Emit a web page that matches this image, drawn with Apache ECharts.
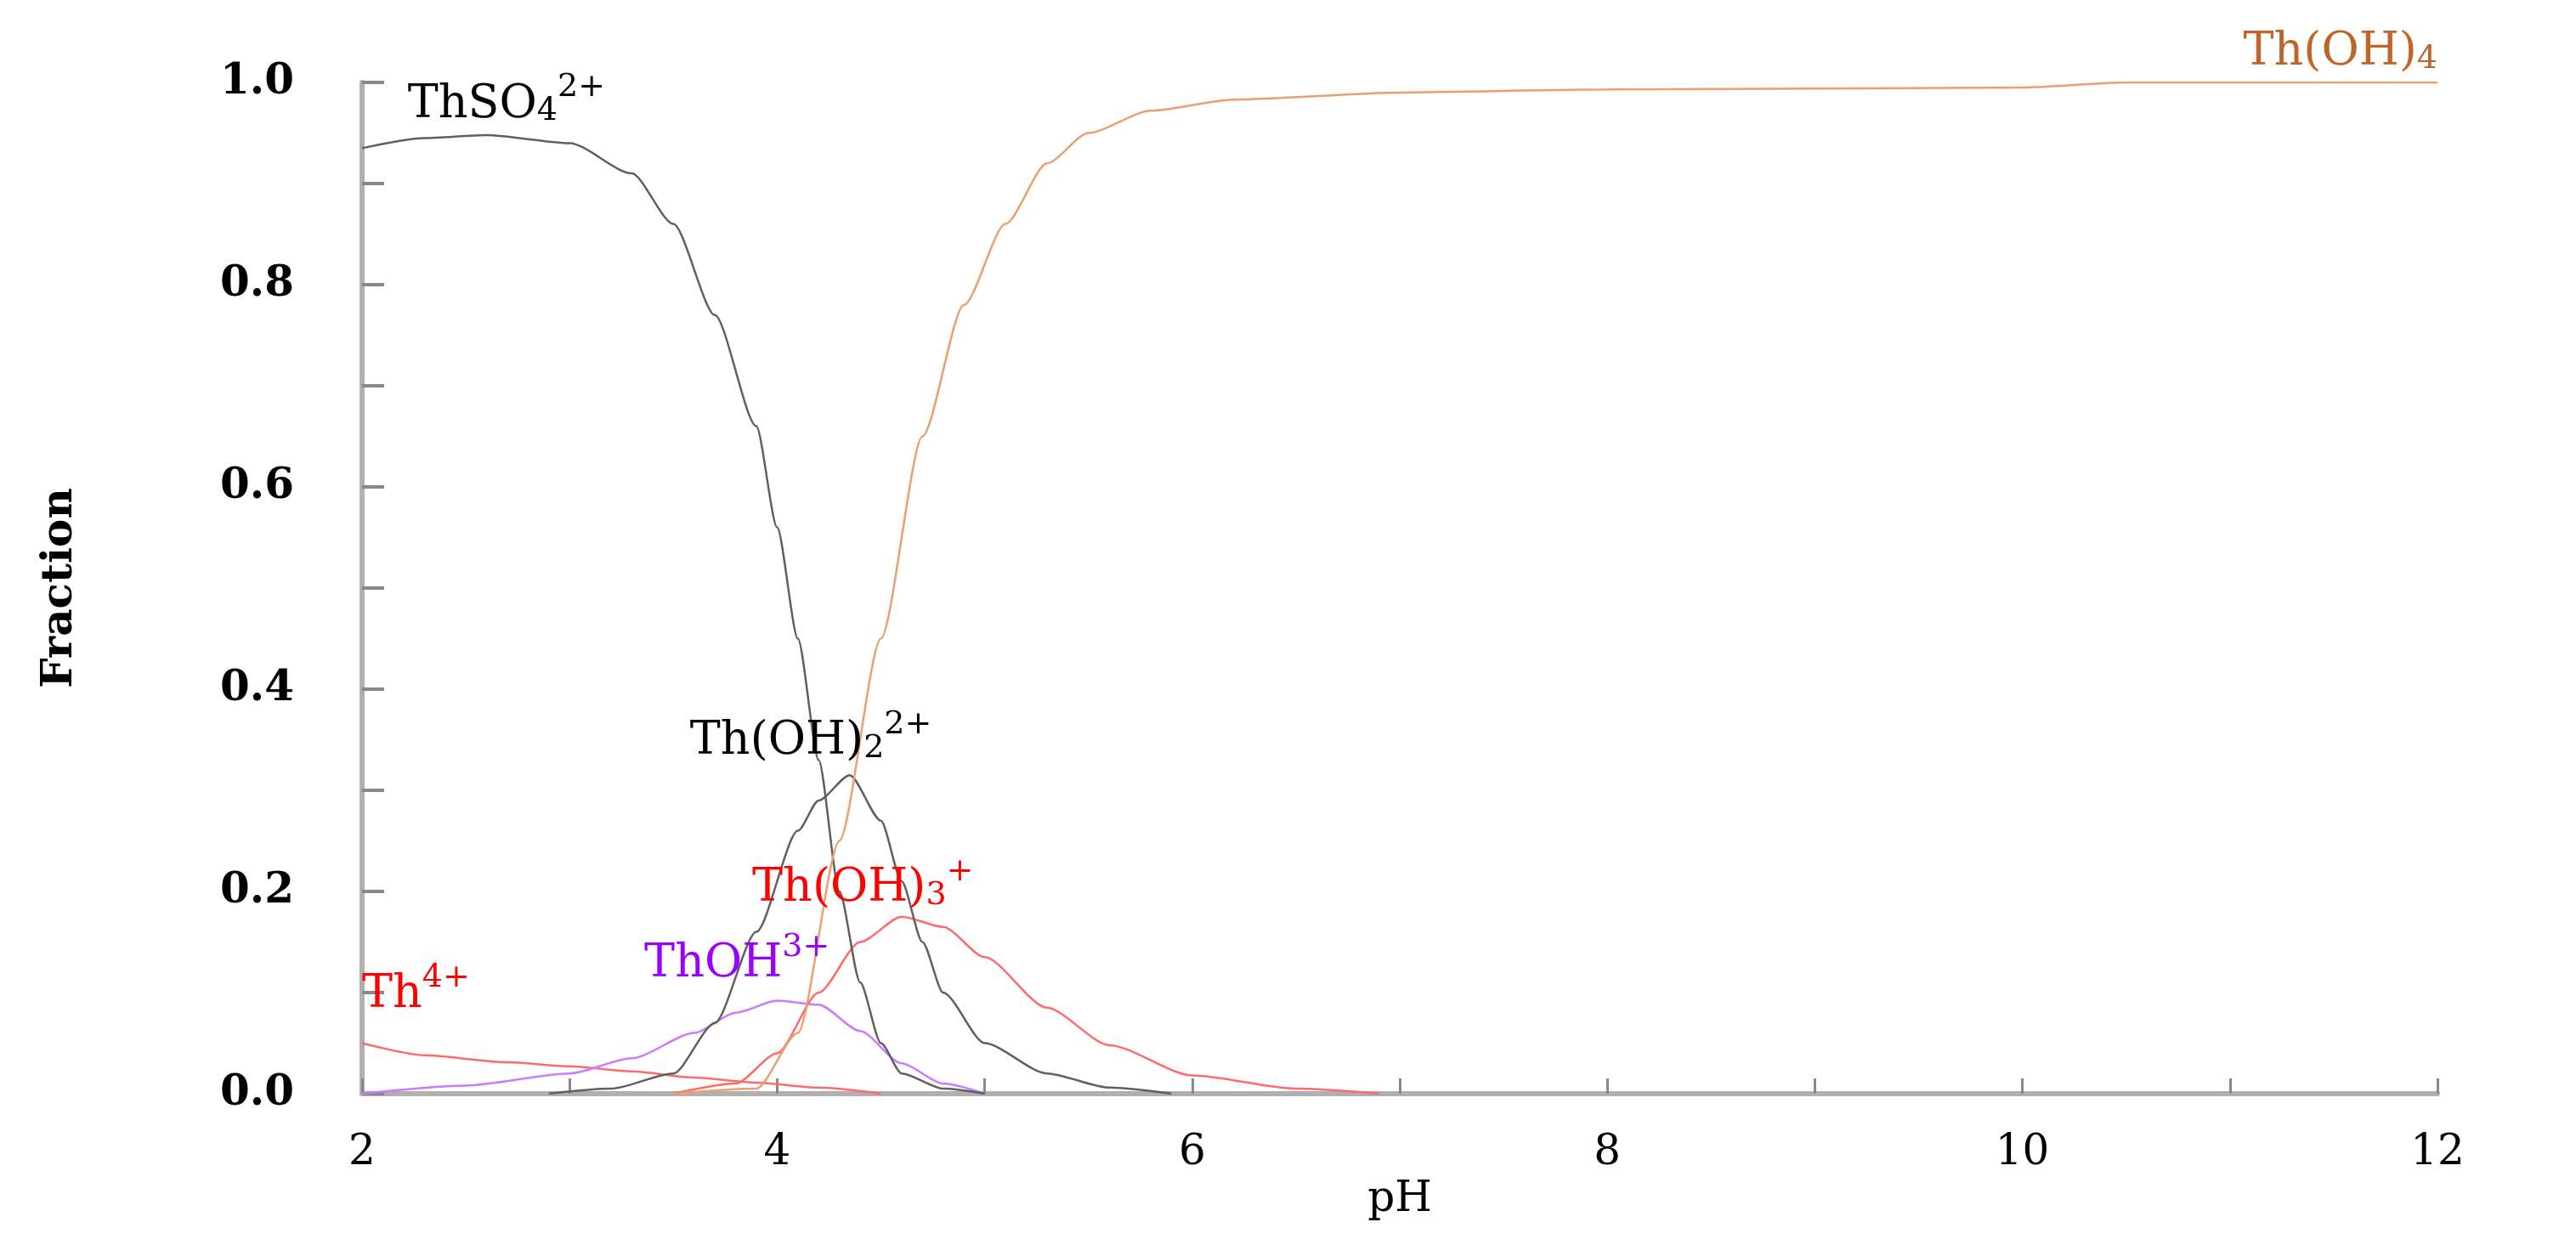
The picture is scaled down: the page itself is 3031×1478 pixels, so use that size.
<!DOCTYPE html>
<html><head><meta charset="utf-8">
<script src="https://cdn.jsdelivr.net/npm/echarts@6/dist/echarts.min.js"></script>
<style>html,body{margin:0;padding:0;background:#fff}#c{width:3031px;height:1478px}</style>
</head><body><div id="c"></div>
<script>
const thso4 = [[2,0.935],[2.3,0.945],[2.6,0.948],[3.0,0.94],[3.3,0.91],[3.5,0.86],[3.7,0.77],[3.9,0.66],[4.0,0.56],[4.1,0.45],[4.2,0.33],[4.3,0.2],[4.4,0.11],[4.5,0.05],[4.6,0.02],[4.8,0.005],[5.0,0]];
const thoh2 = [[2.9,0],[3.2,0.005],[3.5,0.02],[3.7,0.07],[3.9,0.16],[4.1,0.26],[4.2,0.29],[4.35,0.315],[4.5,0.27],[4.6,0.21],[4.7,0.15],[4.8,0.1],[5.0,0.05],[5.3,0.02],[5.6,0.006],[5.9,0]];
const thoh3 = [[3.5,0],[3.8,0.01],[4.0,0.04],[4.2,0.1],[4.4,0.15],[4.6,0.175],[4.8,0.165],[5.0,0.135],[5.3,0.085],[5.6,0.048],[6.0,0.018],[6.5,0.005],[6.9,0]];
const thoh1 = [[2,0],[2.5,0.008],[3.0,0.02],[3.3,0.035],[3.6,0.06],[3.8,0.08],[4.0,0.092],[4.2,0.088],[4.4,0.062],[4.6,0.03],[4.8,0.01],[5.0,0]];
const th4 = [[2,0.05],[2.3,0.038],[2.7,0.031],[3.0,0.027],[3.3,0.022],[3.6,0.016],[3.9,0.011],[4.2,0.006],[4.5,0]];
const thoh4 = [[3.5,0],[3.9,0.005],[4.1,0.06],[4.3,0.25],[4.5,0.45],[4.7,0.65],[4.9,0.78],[5.1,0.86],[5.3,0.92],[5.5,0.95],[5.8,0.972],[6.2,0.983],[7,0.99],[8,0.993],[10,0.995],[10.5,1.0],[12,1.0]];
const xTicks = [2,4,6,8,10,12];
const yTicks = [0,0.2,0.4,0.6,0.8,1.0];

const F = 'DejaVu Serif';
function rich(color){
  return {
    b:{fontFamily:F,fontSize:54,color:color,lineHeight:66,verticalAlign:'bottom'},
    sub:{fontFamily:F,fontSize:38,color:color,lineHeight:44,verticalAlign:'bottom'},
    sup:{fontFamily:F,fontSize:38,color:color,lineHeight:56,verticalAlign:'top'}
  };
}
function lbl(coord, text, color, align){
  return {coord:coord, symbol:'circle', symbolSize:0.1,
    label:{show:true, position:'inside', align:align||'left', verticalAlign:'bottom', formatter:text, rich:rich(color)}};
}
function line(name,data,color,labels){
  return {type:'line', name, data, showSymbol:false, smooth:0.25, smoothMonotone:'x', lineStyle:{color,width:2.5}, z:2,
    markPoint:{silent:true, data:labels}};
}
const chart = echarts.init(document.getElementById('c'));
chart.setOption({
  animation:false,
  grid:{left:426,right:163,top:97,bottom:191},
  xAxis:{type:'value',min:2,max:12,interval:2,
    name:'pH',nameLocation:'middle',nameGap:100,nameTextStyle:{fontFamily:F,fontSize:50,color:'#000'},
    axisLine:{lineStyle:{color:'#b0b0b0',width:6}},
    axisTick:{inside:true,length:18,lineStyle:{color:'#888',width:3}},
    minorTick:{show:true,splitNumber:2,length:18,lineStyle:{color:'#888',width:3}},
    splitLine:{show:false},
    axisLabel:{fontFamily:F,fontSize:50,color:'#000',margin:45}},
  yAxis:{type:'value',min:0,max:1,interval:0.2,
    name:'Fraction',nameLocation:'middle',nameGap:330,nameTextStyle:{fontFamily:F,fontSize:50,color:'#000',fontWeight:'bold'},
    axisLine:{show:true,lineStyle:{color:'#b0b0b0',width:6}},
    axisTick:{show:true,inside:true,length:26,lineStyle:{color:'#888',width:4}},
    minorTick:{show:true,splitNumber:2,length:26,lineStyle:{color:'#888',width:4}},
    splitLine:{show:false},
    axisLabel:{fontFamily:F,fontSize:50,fontWeight:'bold',color:'#000',margin:80,formatter:v=>v.toFixed(1)}},
  series:[
    line('Th4+',th4,'#ff6a6a',[lbl([2.0,0.075],'{b|Th}{sup|4+}','#ff0000')]),
    line('ThOH3+',thoh1,'#cc7aff',[lbl([3.36,0.105],'{b|ThOH}{sup|3+}','#9900ff')]),
    line('Th(OH)3+',thoh3,'#ff6a6a',[lbl([3.88,0.18],'{b|Th(OH)}{sub|3}{sup|+}','#ff0000')]),
    line('Th(OH)2 2+',thoh2,'#606060',[lbl([3.58,0.325],'{b|Th(OH)}{sub|2}{sup|2+}','#000')]),
    line('ThSO4 2+',thso4,'#606060',[lbl([2.22,0.955],'{b|ThSO}{sub|4}{sup|2+}','#000')]),
    line('Th(OH)4',thoh4,'#e8a070',[{coord:[12,1.0],symbol:'circle',symbolSize:0.1,
      label:{show:true,position:'inside',align:'right',verticalAlign:'bottom',offset:[0,-8],formatter:'{b|Th(OH)}{sub|4}',rich:rich('#c0642a')}}])
  ]
});
</script></body></html>
